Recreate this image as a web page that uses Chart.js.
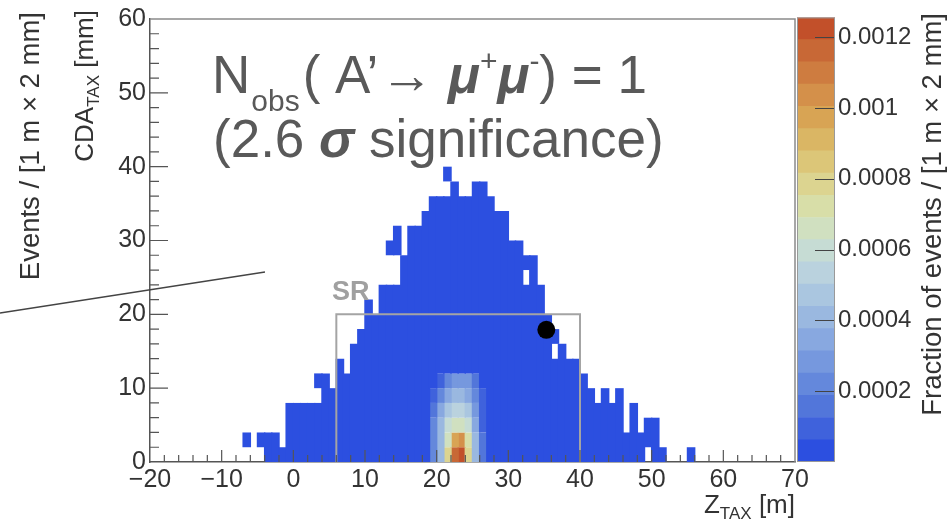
<!DOCTYPE html>
<html>
<head>
<meta charset="utf-8">
<script src="https://cdn.jsdelivr.net/npm/chart.js@4.4.0/dist/chart.umd.min.js"></script>
<style>
  body { margin: 0; background: #fff; }
  #wrap { position: relative; width: 951px; height: 526px; }
  canvas { position: absolute; top: 0; }
  #hist { left: 0; }
  #pal { left: 780px; }
</style>
</head>
<body>
<div id="wrap">
  <canvas id="hist" width="951" height="526"></canvas>
  <canvas id="pal" width="171" height="526"></canvas>
</div>
<script>
// z bins of 1 m (lower edge) and top of the filled column in mm (2 mm rows)
const zBins = [-7, -6, -5, -4, -3, -2, -1, 0, 1, 2, 3, 4, 5, 6, 7, 8, 9, 10, 11, 12, 13, 14, 15, 16, 17, 18, 19, 20,
  21, 22, 23, 24, 25, 26, 27, 28, 29, 30, 31, 32, 33, 34, 35, 36, 37, 38, 39, 40, 41, 42, 43, 44, 45, 46, 47, 48,
  49, 50, 51, 52, 53, 54, 55];
const colTop = [4, 0, 4, 4, 4, 2, 8, 8, 8, 8, 8, 12, 10, 14, 12, 16, 18, 22, 20, 24, 24, 24, 28, 32, 32, 34, 36, 36,
  36, 38, 36, 36, 38, 38, 36, 34, 34, 30, 30, 28, 28, 24, 20, 18, 16, 14, 14, 12, 10, 8, 10, 8, 10, 4, 8, 4,
  6, 6, 2, 0, 0, 0, 2];
// [z, cda] cells missing inside a column / sitting above it
const emptyCells = [[-7, 0], [-5, 0], [32, 24], [36, 14], [49, 0]];
const strayCells = [[3, 10], [13, 28], [14, 28], [14, 30], [21, 38]];
const cellFraction = 0.3e-4;

// signal core, fraction x 1e-4, rows are CDA 0-2, 2-4 ... 10-12 mm
const coreZ = [19, 20, 21, 22, 23, 24, 25, 26];
const coreRows = [
  [2.2, 4.0, 7.8, 11.6, 12.2, 7.8, 4.0, 1.5],
  [2.2, 4.0, 6.6, 9.7, 10.3, 7.2, 4.0, 1.5],
  [2.0, 3.8, 6.0, 6.6, 6.6, 6.0, 3.4, 1.0],
  [1.5, 3.2, 4.7, 5.3, 5.3, 4.7, 2.8, 0.9],
  [1.0, 2.2, 3.4, 4.0, 4.0, 3.4, 2.2, 0.8],
  [0.5, 1.0, 2.2, 2.8, 2.8, 2.8, 1.5, 0.5]
];

// observed event and signal region
const obsZ = [35.3];
const obsCDA = [17.9];
const srZ = [6, 40];
const srCDA = 20;

// palette, bottom to top
const paletteColors = ['#2c4fe0', '#3f62dc', '#5276da', '#6488dc', '#7698de', '#88a8e0', '#9ab8e0', '#aac6e0',
  '#bad2de', '#c6dcd4', '#d0e0c0', '#d8dea8', '#dcd490', '#dcc678', '#dab664', '#d8a454', '#d4904a', '#ce7c40',
  '#c86836', '#c2502a'];
const paletteMax = 0.001256;
const paletteTicks = [0.0002, 0.0004, 0.0006, 0.0008, 0.001, 0.0012];

const fam = "'Liberation Sans', Arial, sans-serif";
Chart.defaults.font.family = fam;

const step = paletteMax / paletteColors.length;
const band = v => Math.min(paletteColors.length - 1, Math.floor(v / step));

const cells = new Map();
zBins.forEach((z, i) => {
  for (let y = 0; y < colTop[i]; y += 2) cells.set(z + ':' + y, cellFraction);
});
emptyCells.forEach(([z, y]) => cells.delete(z + ':' + y));
strayCells.forEach(([z, y]) => cells.set(z + ':' + y, cellFraction));
coreRows.forEach((row, r) => row.forEach((v, j) => cells.set(coreZ[j] + ':' + r * 2, v * 1e-4)));

// stack equal-colour cells of a column into one floating bar
const bandBars = paletteColors.map(() => []);
zBins.forEach(z => {
  let run = null;
  for (let y = 0; y <= 60; y += 2) {
    const v = cells.get(z + ':' + y);
    const b = v === undefined ? -1 : band(v);
    if (run && b === run.b) { run.hi = y + 2; continue; }
    if (run) bandBars[run.b].push({x: z + 0.5, y: [run.lo, run.hi]});
    run = b < 0 ? null : {b, lo: y, hi: y + 2};
  }
});

const datasets = [
  {type: 'scatter', data: obsZ.map((z, i) => ({x: z, y: obsCDA[i]})), pointRadius: 9,
    backgroundColor: '#000', borderWidth: 0, order: 0},
  {type: 'line', data: [{x: srZ[0], y: 0}, {x: srZ[0], y: srCDA}, {x: srZ[1], y: srCDA}, {x: srZ[1], y: 0}],
    borderColor: '#a4a4a4', borderWidth: 2, pointRadius: 0, fill: false, order: 1}
];
// bars a bit wider than a bin so neighbouring columns overlap (no hairline seams)
bandBars.forEach((bars, i) => datasets.push({
  type: 'bar', data: bars, backgroundColor: paletteColors[i], borderWidth: 0,
  grouped: false, barPercentage: 1.2, categoryPercentage: 1, order: 2
}));

function drawRuns(ctx, x, y, runs) {
  runs.forEach(r => {
    ctx.font = r.font;
    x += r.dx || 0;
    ctx.fillText(r.t, x, y + (r.dy || 0));
    x += ctx.measureText(r.t).width;
  });
}

const minus = v => (v < 0 ? '\u2212' + Math.abs(v) : '' + v);

const histDecor = {
  id: 'histDecor',
  afterDraw(chart) {
    const {ctx, chartArea: a, scales: {x, y}} = chart;
    ctx.save();
    // frame
    ctx.strokeStyle = '#8a8a8a';
    ctx.lineWidth = 1.5;
    ctx.beginPath();
    ctx.moveTo(a.left, a.top); ctx.lineTo(a.right, a.top); ctx.lineTo(a.right, a.bottom);
    ctx.stroke();
    // ticks pointing inwards
    ctx.strokeStyle = '#555';
    ctx.lineWidth = 1.2;
    ctx.beginPath();
    for (let v = -18; v < 70; v += 2) {
      const px = x.getPixelForValue(v);
      ctx.moveTo(px, a.bottom); ctx.lineTo(px, a.bottom - (v % 10 === 0 ? 12 : 7));
    }
    for (let v = 2; v < 60; v += 2) {
      const py = y.getPixelForValue(v);
      ctx.moveTo(a.left, py); ctx.lineTo(a.left + (v % 10 === 0 ? 18 : 9), py);
    }
    ctx.stroke();

    // stray line on the left
    ctx.strokeStyle = '#444';
    ctx.lineWidth = 1.3;
    ctx.beginPath(); ctx.moveTo(0, 313); ctx.lineTo(265, 272); ctx.stroke();

    ctx.fillStyle = '#333';
    ctx.textBaseline = 'alphabetic';
    // x title
    ctx.textAlign = 'left';
    const xt = [{t: 'Z', font: '26px ' + fam}, {t: 'TAX', font: '17px ' + fam, dy: 6}, {t: ' [m]', font: '26px ' + fam}];
    let w = 0;
    xt.forEach(r => { ctx.font = r.font; w += ctx.measureText(r.t).width; });
    drawRuns(ctx, a.right - w, 513, xt);

    // rotated titles
    const vTitle = (bx, topY, runs) => {
      ctx.save();
      ctx.translate(bx, topY);
      ctx.rotate(-Math.PI / 2);
      let tw = 0;
      runs.forEach(r => { ctx.font = r.font; tw += ctx.measureText(r.t).width; });
      drawRuns(ctx, -tw, 0, runs);
      ctx.restore();
    };
    vTitle(93, 10, [{t: 'CDA', font: '26px ' + fam}, {t: 'TAX', font: '17px ' + fam, dy: 6}, {t: ' [mm]', font: '26px ' + fam}]);
    vTitle(39, 12, [{t: 'Events / [1 m \u00d7 2 mm]', font: '27.5px ' + fam}]);

    // signal region label
    ctx.fillStyle = '#a0a0a0';
    ctx.font = 'bold 27px ' + fam;
    ctx.fillText('SR', x.getPixelForValue(5.4), y.getPixelForValue(22));

    // result text
    ctx.fillStyle = '#595959';
    const big = '53px ' + fam, sub = '30px ' + fam, sym = 'bold italic 53px ' + fam;
    drawRuns(ctx, 212, 93, [
      {t: 'N', font: big},
      {t: 'obs', font: sub, dy: 18, dx: 1},
      {t: '( A\u2019', font: big, dx: 3},
      {t: '\u2192', font: big, dx: 2},
      {t: ' \u03bc', font: sym},
      {t: '+', font: sub, dy: -22},
      {t: '\u03bc', font: sym},
      {t: '-', font: sub, dy: -22},
      {t: ') = 1', font: big}
    ]);
    drawRuns(ctx, 213, 157, [
      {t: '(2.6 ', font: big},
      {t: '\u03c3', font: sym},
      {t: ' significance)', font: big}
    ]);
    ctx.restore();
  }
};

new Chart(document.getElementById('hist'), {
  type: 'bar',
  data: {datasets},
  options: {
    responsive: false,
    animation: false,
    devicePixelRatio: 1,
    events: [],
    layout: {padding: {left: 0, top: 13, right: 156, bottom: 0}},
    plugins: {legend: {display: false}, tooltip: {enabled: false}},
    scales: {
      x: {
        type: 'linear', min: -20, max: 70, offset: false,
        ticks: {stepSize: 10, color: '#333', font: {size: 25}, padding: 3, maxRotation: 0, autoSkip: false, callback: minus},
        grid: {display: false, drawTicks: false, offset: false},
        border: {display: true, color: '#555', width: 1.5},
        afterFit: s => { s.height = 64; }
      },
      y: {
        type: 'linear', min: 0, max: 60,
        ticks: {stepSize: 10, color: '#333', font: {size: 25}, padding: 4},
        grid: {display: false, drawTicks: false},
        border: {display: true, color: '#555', width: 1.5},
        afterFit: s => { s.width = 150; }
      }
    }
  },
  plugins: [histDecor]
});

// colour scale
const palDecor = {
  id: 'palDecor',
  afterDraw(chart) {
    const {ctx, chartArea: a, scales: {y}} = chart;
    ctx.save();
    ctx.strokeStyle = '#444';
    ctx.lineWidth = 1;
    ctx.beginPath();
    paletteTicks.forEach(v => {
      const py = Math.round(y.getPixelForValue(v)) + 0.5;
      ctx.moveTo(a.right - 20, py); ctx.lineTo(a.right, py);
    });
    ctx.stroke();
    ctx.strokeStyle = '#999';
    ctx.strokeRect(a.left + 0.5, a.top + 0.5, a.right - a.left - 1, a.bottom - a.top - 1);

    ctx.fillStyle = '#333';
    ctx.font = '27.5px ' + fam;
    ctx.translate(161, 13);
    ctx.rotate(-Math.PI / 2);
    ctx.textAlign = 'right';
    ctx.fillText('Fraction of events / [1 m \u00d7 2 mm]', 0, 0);
    ctx.restore();
  }
};

new Chart(document.getElementById('pal'), {
  type: 'bar',
  data: {
    labels: [''],
    datasets: paletteColors.map(c => ({
      data: [step], backgroundColor: c, borderWidth: 0, barPercentage: 1, categoryPercentage: 1
    }))
  },
  options: {
    responsive: false,
    animation: false,
    devicePixelRatio: 1,
    events: [],
    layout: {padding: {left: 17, top: 13, right: 0, bottom: 64}},
    plugins: {legend: {display: false}, tooltip: {enabled: false}},
    scales: {
      x: {display: false, stacked: true},
      y: {
        stacked: true, position: 'right', min: 0, max: paletteMax,
        ticks: {
          stepSize: 0.0002, includeBounds: false, color: '#333', font: {size: 24}, padding: 3,
          callback: v => (v > 0 ? String(Number(v.toFixed(4))) : '')
        },
        grid: {display: false, drawTicks: false},
        border: {display: false},
        afterFit: s => { s.width = 116; }
      }
    }
  },
  plugins: [palDecor]
});
</script>
</body>
</html>
